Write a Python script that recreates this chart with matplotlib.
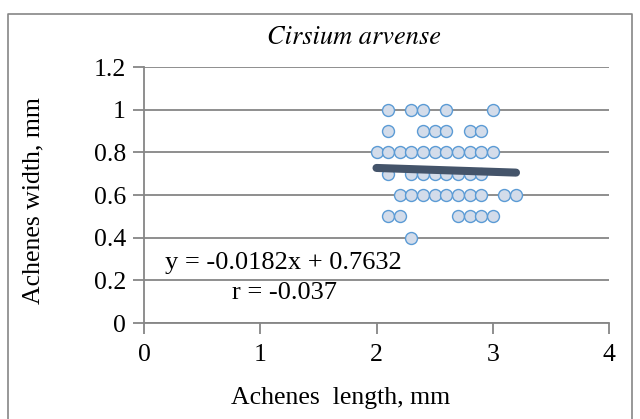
import matplotlib
matplotlib.use("Agg")
import matplotlib.pyplot as plt
from matplotlib.lines import Line2D
import numpy as np

length = [2.1, 2.3, 2.4, 2.6, 3.0,
          2.1, 2.4, 2.5, 2.6, 2.8, 2.9,
          2.0, 2.1, 2.2, 2.3, 2.4, 2.5, 2.6, 2.7, 2.8, 2.9, 3.0,
          2.1, 2.3, 2.4, 2.5, 2.6, 2.7, 2.8, 2.9,
          2.2, 2.3, 2.4, 2.5, 2.6, 2.7, 2.8, 2.9, 3.1, 3.2,
          2.1, 2.2, 2.7, 2.8, 2.9, 3.0,
          2.3]
width = [1.0] * 5 + [0.9] * 6 + [0.8] * 11 + [0.7] * 8 + [0.6] * 10 + [0.5] * 6 + [0.4]

slope = -0.0182
intercept = 0.7632
trend_x = [2.0, 3.2]

xticks = [0, 1, 2, 3, 4]
yticks = [0, 0.2, 0.4, 0.6, 0.8, 1, 1.2]
ytick_labels = ["0", "0.2", "0.4", "0.6", "0.8", "1", "1.2"]

plt.rcParams['font.family'] = ['Liberation Serif']
grey = '#868686'

fig = plt.figure(figsize=(6.4, 4.19), dpi=100)
ax = fig.add_axes([144 / 640, 1 - 323 / 419, 465 / 640, 256 / 419])

ax.scatter(length, width, s=74, facecolor='#D3DCEA', edgecolor='#5B9BD5',
           linewidths=1.0, zorder=3)
tx = np.array(trend_x)
ax.plot(tx, slope * tx + intercept, color='#44546A', lw=5.8,
        solid_capstyle='round', zorder=4)

ax.set_xlim(0, 4)
ax.set_ylim(0, 1.2)
ax.set_xticks(xticks)
ax.set_yticks(yticks)
ax.set_yticklabels(ytick_labels)
ax.grid(axis='y', color=grey, lw=1.3)
ax.set_axisbelow(True)
for side in ['top', 'right']:
    ax.spines[side].set_visible(False)
for side in ['left', 'bottom']:
    ax.spines[side].set_color(grey)
    ax.spines[side].set_linewidth(1.3)
ax.tick_params(axis='both', colors=grey, length=8, width=1.3, labelsize=18.5,
               labelcolor='black')
ax.tick_params(axis='y', pad=5)
ax.tick_params(axis='x', pad=7)

# axis titles sit off-centre in the original, so place them on the figure
fig.text(341 / 640, 1 - 398 / 419, 'Achenes  length, mm', fontsize=18.5,
         ha='center', va='center')
fig.text(33 / 640, 1 - 201 / 419, 'Achenes width, mm', fontsize=18.5,
         rotation=90, ha='center', va='center')

# Liberation Serif has no italic here, STIX italic is Times-like
fig.text(354 / 640, 1 - 38 / 419, 'Cirsium arvense', fontsize=19,
         style='italic', family='STIXGeneral', ha='center', va='center')
fig.text(165 / 640, 1 - 263 / 419, 'y = -0.0182x + 0.7632', fontsize=19,
         ha='left', va='center')
fig.text(232 / 640, 1 - 293 / 419, 'r = -0.037', fontsize=19,
         ha='left', va='center')

# outer chart frame (bottom edge runs off the image)
fx = [8 / 640, 8 / 640, 632 / 640, 632 / 640]
fy = [-0.01, 1 - 14 / 419, 1 - 14 / 419, -0.01]
fig.add_artist(Line2D(fx, fy, color=grey, lw=1.2, transform=fig.transFigure))

fig.savefig('out.png', dpi=100)
